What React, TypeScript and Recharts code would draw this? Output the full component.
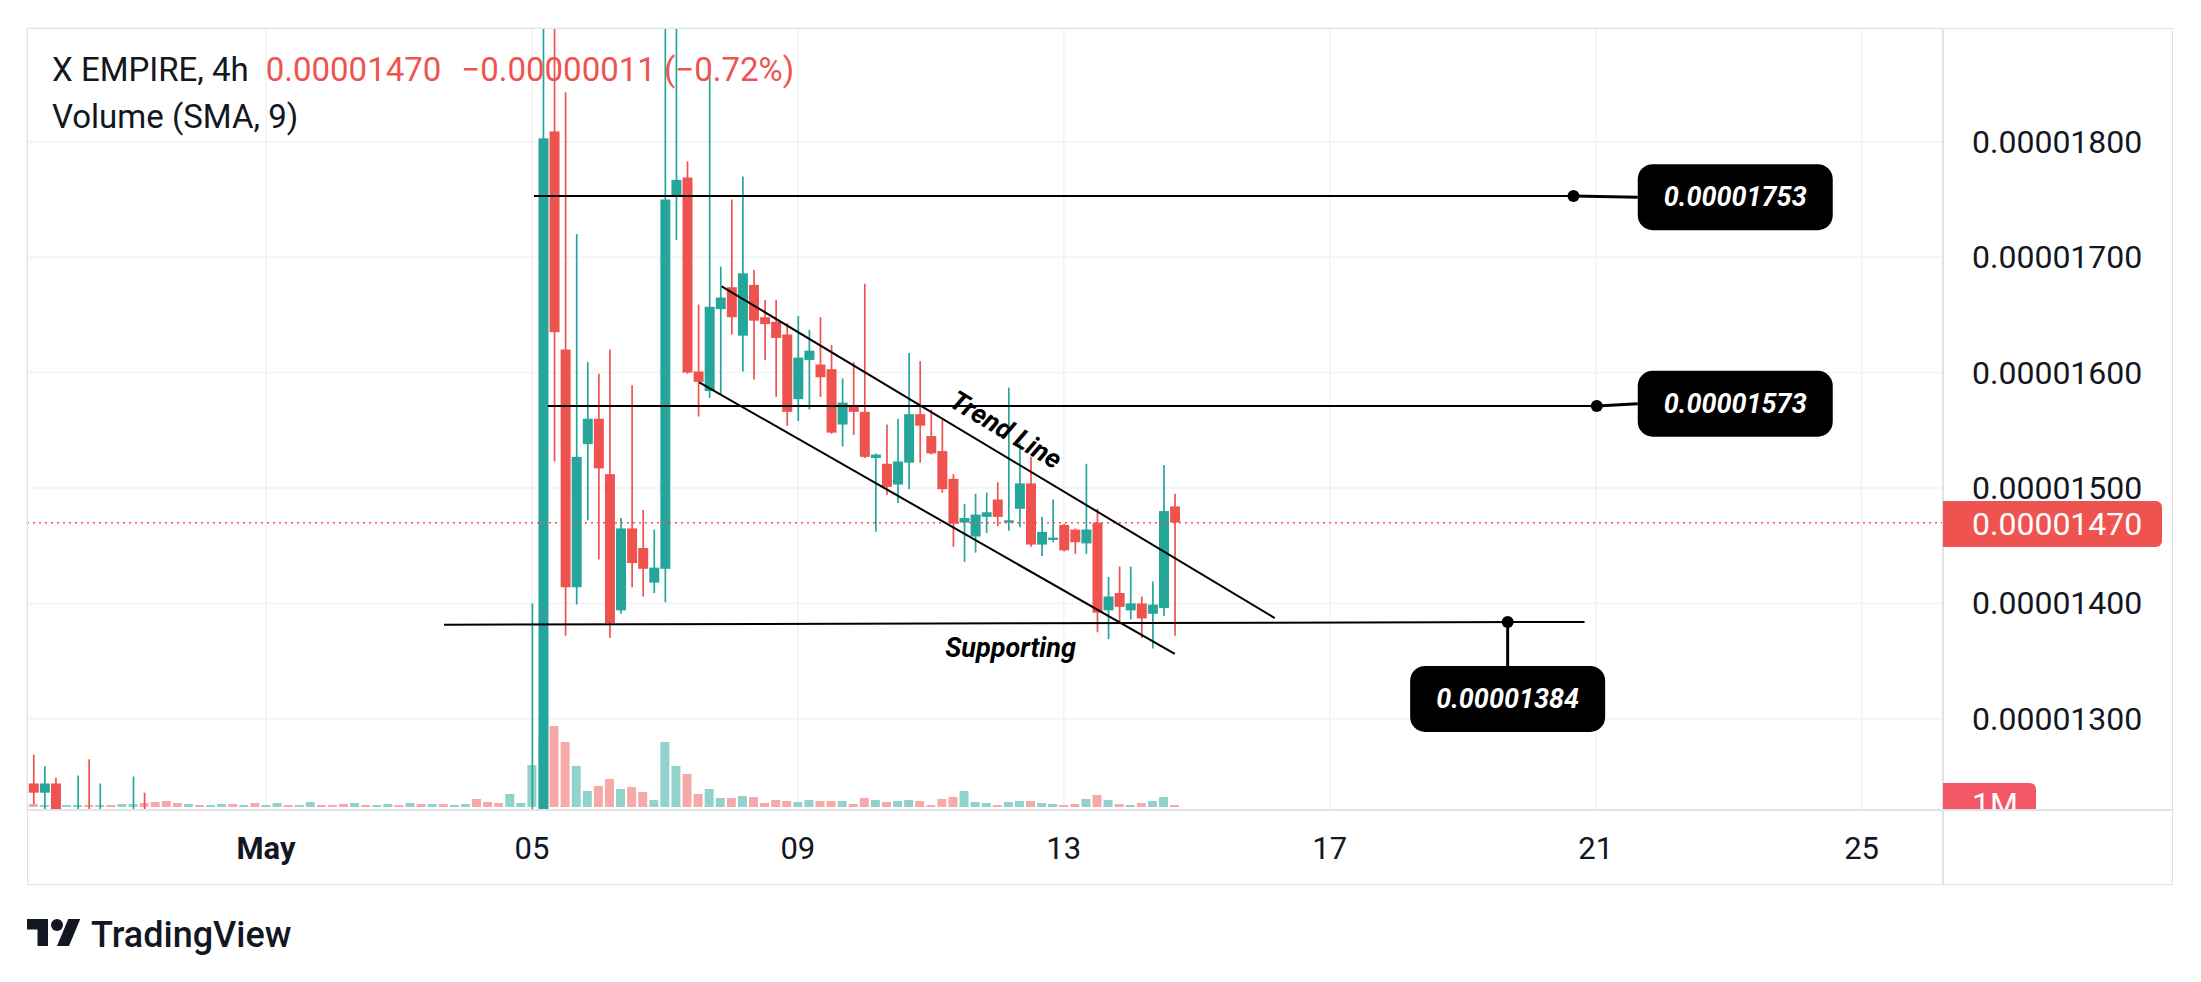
import React from "react";
import {
  Bar,
  CartesianGrid,
  Cell,
  ComposedChart,
  ReferenceDot,
  ReferenceLine,
  XAxis,
  YAxis,
} from "recharts";

// 4h candles, index 0 = May 5 00:00; prices in 1e-8 units (1470 = 0.00001470)
const FIRST_INDEX = -45;

const opens = [
  1244, 1236, 1244, 1196, 1198, 1206, 1196, 1204, 1198, 1200, 1206, 1199, 1195, 1190, 1186, 1192, 1189, 1193, 1198, 1194,
  1197, 1190, 1195, 1202, 1198, 1201, 1208, 1204, 1201, 1196, 1203, 1200, 1202, 1206, 1202, 1208, 1203, 1207, 1202, 1204,
  1207, 1194, 1190, 1187, 1201,
  1204, 1212, 1809, 1620, 1414, 1538, 1560, 1512, 1394, 1465, 1448, 1418, 1430, 1753, 1769, 1601, 1584, 1655, 1674, 1632,
  1676, 1648, 1644, 1633, 1577, 1611, 1607, 1603, 1555, 1572, 1566, 1526, 1521, 1503, 1522, 1564, 1545, 1532, 1508, 1470,
  1458, 1475, 1490, 1470, 1482, 1504, 1451, 1455, 1468, 1464, 1452, 1470, 1394, 1409, 1394, 1400, 1391, 1396, 1484,
];
const highs = [
  1269, 1259, 1249, 1210, 1251, 1265, 1244, 1212, 1210, 1250, 1236, 1208, 1204, 1198, 1196, 1198, 1197, 1202, 1203, 1200,
  1202, 1198, 1206, 1205, 1204, 1212, 1211, 1207, 1204, 1206, 1206, 1205, 1209, 1208, 1211, 1211, 1210, 1210, 1207, 1210,
  1209, 1198, 1194, 1206, 1208,
  1400, 1960, 1960, 1843, 1720, 1609, 1599, 1620, 1474, 1589, 1481, 1464, 1960, 1960, 1783, 1659, 1860, 1692, 1750, 1770,
  1689, 1663, 1663, 1643, 1649, 1637, 1648, 1624, 1595, 1609, 1677, 1530, 1555, 1560, 1617, 1610, 1568, 1559, 1512, 1486,
  1495, 1496, 1505, 1587, 1539, 1527, 1475, 1490, 1469, 1465, 1521, 1482, 1423, 1432, 1432, 1406, 1419, 1520, 1495,
];
const lows = [
  1226, 1205, 1190, 1188, 1190, 1192, 1190, 1194, 1192, 1194, 1196, 1190, 1185, 1182, 1182, 1186, 1185, 1188, 1190, 1190,
  1186, 1186, 1191, 1194, 1194, 1197, 1200, 1198, 1192, 1193, 1197, 1196, 1198, 1199, 1198, 1200, 1199, 1199, 1198, 1200,
  1190, 1186, 1183, 1184, 1197,
  1198, 1205, 1523, 1372, 1399, 1472, 1438, 1370, 1391, 1414, 1406, 1409, 1401, 1715, 1599, 1562, 1578, 1581, 1633, 1601,
  1594, 1611, 1579, 1554, 1558, 1568, 1579, 1547, 1536, 1546, 1526, 1462, 1494, 1487, 1499, 1522, 1529, 1496, 1449, 1436,
  1444, 1461, 1467, 1463, 1466, 1449, 1441, 1453, 1445, 1443, 1443, 1375, 1369, 1384, 1386, 1370, 1361, 1389, 1372,
];
const closes = [
  1236, 1244, 1200, 1204, 1206, 1198, 1204, 1198, 1203, 1206, 1199, 1195, 1190, 1186, 1192, 1189, 1193, 1198, 1194, 1197,
  1190, 1195, 1202, 1198, 1201, 1208, 1204, 1201, 1196, 1203, 1200, 1202, 1206, 1202, 1208, 1203, 1207, 1202, 1204, 1207,
  1194, 1190, 1187, 1201, 1204,
  1212, 1803, 1635, 1414, 1527, 1560, 1517, 1383, 1465, 1435, 1430, 1431, 1750, 1767, 1600, 1592, 1657, 1665, 1648, 1686,
  1645, 1642, 1630, 1566, 1613, 1619, 1596, 1548, 1574, 1566, 1527, 1529, 1501, 1523, 1564, 1554, 1530, 1499, 1469, 1474,
  1477, 1479, 1475, 1472, 1504, 1451, 1462, 1457, 1446, 1453, 1464, 1392, 1406, 1397, 1400, 1387, 1399, 1480, 1470,
];
// volume, millions
const volumes = [
  1.2, 0.8, 1.6, 0.8, 0.8, 0.8, 0.8, 0.8, 1.2, 1.2, 1.6, 2.0, 2.4, 1.6, 1.2, 0.8, 0.8, 1.2, 1.2, 0.8,
  1.6, 0.8, 1.6, 0.8, 0.8, 2.0, 0.8, 0.8, 1.2, 1.6, 0.8, 0.8, 1.2, 0.8, 1.6, 1.2, 1.2, 1.2, 0.8, 1.2,
  3.2, 2.0, 1.6, 5.2, 1.6,
  16.8, 28.0, 32.4, 26.0, 16.4, 6.4, 8.4, 11.2, 7.2, 8.0, 6.0, 2.8, 26.0, 16.4, 13.2, 5.2, 7.2, 3.6, 3.6, 4.4,
  4.0, 1.6, 2.8, 2.4, 2.0, 2.8, 2.4, 2.4, 2.4, 1.2, 3.6, 2.8, 2.0, 2.4, 2.8, 2.4, 0.8, 3.2, 4.0, 6.4,
  2.0, 1.6, 0.8, 2.0, 2.4, 2.4, 1.6, 1.2, 0.8, 1.2, 3.2, 4.8, 2.8, 1.2, 0.8, 1.6, 2.4, 4.0, 0.8,
];

const dateTicks = [-24, 0, 24, 48, 72, 96, 120];
const dateLabels = ["May", "05", "09", "13", "17", "21", "25"];
const priceTicks = [1300, 1400, 1500, 1600, 1700, 1800];

const lastPrice = 1470;
const levels = [1753, 1573, 1384];

const GREEN = "#26a69a";
const RED = "#ef5350";
const GREEN_VOL = "#92d2cc";
const RED_VOL = "#f7a9a8";
const TEXT = "#131722";
const FONT = "Roboto, 'Noto Sans', sans-serif";

const W = 2201;
const H = 982;
const MARGIN = { top: 28, right: 28, bottom: 97, left: 27 };
const PRICE_AXIS_W = 230;
const TIME_AXIS_H = 75;
const PLOT_TOP = MARGIN.top;
const PLOT_BOTTOM = H - MARGIN.bottom - TIME_AXIS_H;
const PLOT_RIGHT = W - MARGIN.right - PRICE_AXIS_W;

const data = opens.map((open, i) => ({
  k: FIRST_INDEX + i,
  open,
  high: highs[i],
  low: lows[i],
  close: closes[i],
  range: [lows[i], highs[i]],
  vol: volumes[i],
  up: closes[i] >= open,
}));

const fmt = (v: number) => (v / 1e8).toFixed(8);

function Candle(props: any) {
  const { x, y, width, height, payload } = props;
  if (!payload) return null;
  const { open, close, high, low } = payload;
  const top0 = Math.min(y, y + height);
  const ppu = Math.abs(height) / (high - low);
  const yOf = (v: number) => top0 + (high - v) * ppu;
  const clamp = (v: number) => Math.max(PLOT_TOP, Math.min(PLOT_BOTTOM, v));
  const color = close >= open ? GREEN : RED;
  const cx = x + width / 2;
  const wt = clamp(yOf(high));
  const wb = clamp(yOf(low));
  const bTop = yOf(Math.max(open, close));
  const bBot = yOf(Math.min(open, close));
  const showBody = bTop < PLOT_BOTTOM && bBot > PLOT_TOP;
  const bt = clamp(bTop);
  const bb = clamp(bBot);
  return (
    <g>
      {wb > wt && <line x1={cx} x2={cx} y1={wt} y2={wb} stroke={color} strokeWidth={1.7} />}
      {showBody && <rect x={x} y={bt} width={width} height={Math.max(1.5, bb - bt)} fill={color} />}
    </g>
  );
}

function DateTick({ x, payload }: any) {
  const i = dateTicks.indexOf(payload.value);
  const label = dateLabels[i] ?? "";
  return (
    <text
      x={x}
      y={PLOT_BOTTOM + 38}
      textAnchor="middle"
      dominantBaseline="central"
      fontSize={31}
      fontFamily={FONT}
      fontWeight={label === "May" ? 700 : 400}
      fill={TEXT}
    >
      {label}
    </text>
  );
}

function PriceTick({ y, payload }: any) {
  return (
    <text x={PLOT_RIGHT + 29} y={y} dominantBaseline="central" fontSize={32} fontFamily={FONT} fill={TEXT}>
      {fmt(payload.value)}
    </text>
  );
}

function LabelBox({ cx, cy, text }: any) {
  const w = 195;
  const h = 66;
  return (
    <g>
      <rect x={cx - w / 2} y={cy - h / 2} width={w} height={h} rx={15} fill="#000" />
      <text
        x={cx}
        y={cy}
        textAnchor="middle"
        dominantBaseline="central"
        fontSize={27}
        fontStyle="italic"
        fontWeight={700}
        fontFamily={FONT}
        fill="#fff"
      >
        {text}
      </text>
    </g>
  );
}

function Note({ cx, cy, text, angle }: any) {
  return (
    <text
      x={cx}
      y={cy}
      textAnchor="middle"
      dominantBaseline="central"
      fontSize={27}
      fontStyle="italic"
      fontWeight={700}
      fontFamily={FONT}
      fill="#000"
      transform={angle ? `rotate(${angle} ${cx} ${cy})` : undefined}
    >
      {text}
    </text>
  );
}

const ax = { xAxisId: "x", yAxisId: "price", ifOverflow: "visible" as const };

export default function App() {
  return (
    <div style={{ position: "relative", width: W, height: H, background: "#fff", overflow: "hidden", fontFamily: FONT }}>
      <style>{`body{margin:0}`}</style>
      <ComposedChart width={W} height={H} data={data} margin={MARGIN}>
        <CartesianGrid xAxisId="x" yAxisId="price" stroke="#f0f2f6" strokeWidth={1.5} />
        <XAxis
          xAxisId="x"
          type="number"
          dataKey="k"
          domain={[-45.57, 127.35]}
          allowDataOverflow
          ticks={dateTicks}
          interval={0}
          tick={<DateTick />}
          axisLine={false}
          tickLine={false}
          height={TIME_AXIS_H}
        />
        <XAxis xAxisId="xv" type="number" dataKey="k" domain={[-45.57, 127.35]} allowDataOverflow hide />
        <YAxis
          yAxisId="price"
          orientation="right"
          domain={[1221, 1898.6]}
          allowDataOverflow
          ticks={priceTicks}
          interval={0}
          tick={<PriceTick />}
          axisLine={false}
          tickLine={false}
          width={PRICE_AXIS_W}
        />
        <YAxis yAxisId="vol" domain={[-1.2, 311.6]} allowDataOverflow hide />

        <Bar xAxisId="xv" yAxisId="vol" dataKey="vol" barSize={9} isAnimationActive={false}>
          {data.map((d) => (
            <Cell key={d.k} fill={d.up ? GREEN_VOL : RED_VOL} />
          ))}
        </Bar>

        <ReferenceLine {...ax} y={lastPrice} stroke={RED} strokeWidth={1.5} strokeDasharray="2 4" />

        <Bar
          xAxisId="x"
          yAxisId="price"
          dataKey="range"
          barSize={10}
          isAnimationActive={false}
          shape={(p: any) => <Candle {...p} />}
        />

        {/* resistance levels */}
        <ReferenceLine {...ax} segment={[{ x: 0.18, y: levels[0] }, { x: 94, y: levels[0] }]} stroke="#000" strokeWidth={2} />
        <ReferenceLine {...ax} segment={[{ x: 94, y: levels[0] }, { x: 99.8, y: 1752 }]} stroke="#000" strokeWidth={3} />
        <ReferenceDot {...ax} x={94} y={levels[0]} r={6} fill="#000" stroke="none" />
        <ReferenceDot {...ax} x={108.6} y={1752} shape={(p: any) => <LabelBox cx={p.cx} cy={p.cy} text={fmt(levels[0])} />} />

        <ReferenceLine {...ax} segment={[{ x: 1.44, y: 1571 }, { x: 96.1, y: 1571 }]} stroke="#000" strokeWidth={2} />
        <ReferenceLine {...ax} segment={[{ x: 96.1, y: 1571 }, { x: 99.8, y: levels[1] }]} stroke="#000" strokeWidth={3} />
        <ReferenceDot {...ax} x={96.1} y={1571} r={6} fill="#000" stroke="none" />
        <ReferenceDot {...ax} x={108.6} y={levels[1]} shape={(p: any) => <LabelBox cx={p.cx} cy={p.cy} text={fmt(levels[1])} />} />

        {/* support */}
        <ReferenceLine {...ax} segment={[{ x: -7.94, y: 1381.5 }, { x: 95, y: levels[2] }]} stroke="#000" strokeWidth={2} />
        <ReferenceLine {...ax} segment={[{ x: 88.06, y: levels[2] }, { x: 88.06, y: 1345.8 }]} stroke="#000" strokeWidth={3} />
        <ReferenceDot {...ax} x={88.06} y={levels[2]} r={6} fill="#000" stroke="none" />
        <ReferenceDot {...ax} x={88.06} y={1317.2} shape={(p: any) => <LabelBox cx={p.cx} cy={p.cy} text={fmt(levels[2])} />} />

        {/* descending channel */}
        <ReferenceLine {...ax} segment={[{ x: 17.12, y: 1674.8 }, { x: 67.04, y: 1387.3 }]} stroke="#000" strokeWidth={2} />
        <ReferenceLine {...ax} segment={[{ x: 15.1, y: 1591.6 }, { x: 58.02, y: 1356.2 }]} stroke="#000" strokeWidth={2} />
        <ReferenceDot {...ax} x={42.77} y={1550.3} shape={(p: any) => <Note cx={p.cx} cy={p.cy} text="Trend Line" angle={31} />} />
        <ReferenceDot {...ax} x={43.2} y={1361.3} shape={(p: any) => <Note cx={p.cx} cy={p.cy} text="Supporting" />} />
      </ComposedChart>

      {/* pane frame */}
      <div style={{ position: "absolute", left: 27, top: 28, width: 2146, height: 857, border: "1.5px solid #e0e3eb", boxSizing: "border-box" }} />
      <div style={{ position: "absolute", left: PLOT_RIGHT - 1, top: 28, width: 2, height: 857, background: "#e0e3eb" }} />
      <div style={{ position: "absolute", left: 27, top: PLOT_BOTTOM - 1, width: 2146, height: 2, background: "#e0e3eb" }} />

      {/* legend */}
      <div style={{ position: "absolute", left: 52, top: 50, fontSize: 33, lineHeight: "40px", color: TEXT, whiteSpace: "pre" }}>
        X EMPIRE, 4h
        <span style={{ color: RED, marginLeft: 17 }}>{fmt(lastPrice)}</span>
        <span style={{ color: RED, marginLeft: 20 }}>{"\u22120.00000011 (\u22120.72%)"}</span>
      </div>
      <div style={{ position: "absolute", left: 52, top: 97, fontSize: 33, lineHeight: "40px", color: TEXT }}>Volume (SMA, 9)</div>

      {/* last price badge */}
      <div
        style={{
          position: "absolute",
          left: PLOT_RIGHT,
          top: 501,
          width: 219,
          height: 46,
          background: RED,
          borderRadius: "0 6px 6px 0",
          color: "#fff",
          fontSize: 32,
          lineHeight: "46px",
          paddingLeft: 29,
          boxSizing: "border-box",
        }}
      >
        {fmt(lastPrice)}
      </div>
      <div
        style={{
          position: "absolute",
          left: PLOT_RIGHT,
          top: 783,
          width: 93,
          height: PLOT_BOTTOM - 1 - 783,
          background: "#f25767",
          borderRadius: "0 6px 0 0",
          overflow: "hidden",
          color: "#fff",
          fontSize: 32,
          lineHeight: "32px",
          paddingLeft: 29,
          paddingTop: 5,
          boxSizing: "border-box",
        }}
      >
        1M
      </div>

      {/* watermark */}
      <svg style={{ position: "absolute", left: 27, top: 913 }} width={54} height={42} viewBox="0 0 36 28">
        <path d="M14 22H7V11H0V4h14v18zM28 22h-8l7.5-18h8L28 22z" fill={TEXT} />
        <circle cx={20} cy={8} r={4} fill={TEXT} />
      </svg>
      <div style={{ position: "absolute", left: 91, top: 917, fontSize: 36, fontWeight: 500, lineHeight: "36px", color: TEXT }}>
        TradingView
      </div>
    </div>
  );
}
